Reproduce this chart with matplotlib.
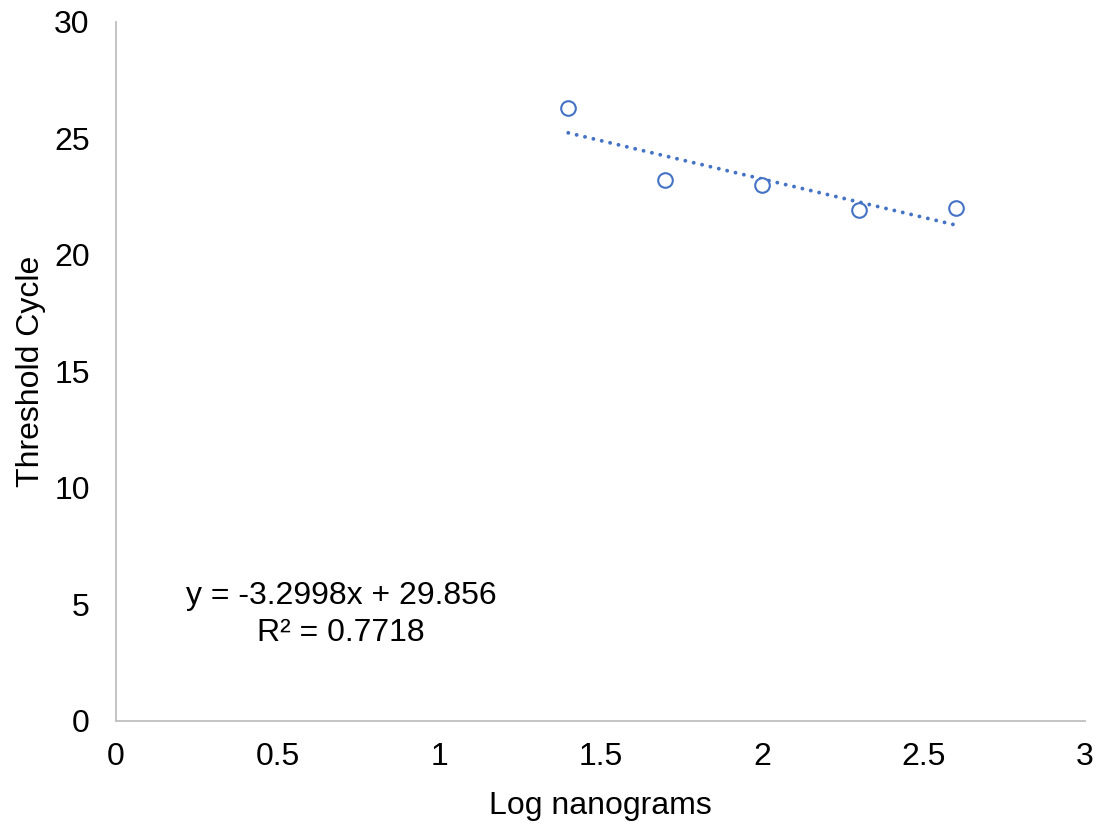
""" Curva padrão: Ct em função do log da massa (ng) """

import numpy as np
import matplotlib.pyplot as plt

plt.rcParams['font.family'] = ['Liberation Sans', 'DejaVu Sans']

# Dados da curva padrão
log_ng = [1.4, 1.7, 2.0, 2.3, 2.6]
ct = [26.31, 23.22, 22.99, 21.93, 22.00]

# Linha de tendência (coeficientes informados no gráfico)
inclinacao = -3.2998
intercepto = 29.856
r2 = 0.7718

x_ticks = [0, 0.5, 1, 1.5, 2, 2.5, 3]
y_ticks = [0, 5, 10, 15, 20, 25, 30]

azul = '#4472C4'
cinza = '#BFBFBF'
fs = 23

fig = plt.figure(figsize=(11.05, 8.24), dpi=100)
ax = fig.add_axes([0.105, 0.1254, 0.877, 0.848])

x_fit = np.array([min(log_ng), max(log_ng)])
y_fit = inclinacao * x_fit + intercepto
ax.plot(x_fit, y_fit, color=azul, lw=2.8, linestyle=(0, (0.01, 2.2)),
        dash_capstyle='round', zorder=2)

ax.plot(log_ng, ct, linestyle='none', marker='o', markersize=10.5,
        markerfacecolor='white', markeredgecolor=azul, markeredgewidth=1.5,
        zorder=3)

ax.text(0.697, 4.55, f'y = {inclinacao}x + {intercepto}\nR² = {r2}',
        ha='center', va='center', fontsize=fs, linespacing=1.3)

ax.set_xlim(0, 3)
ax.set_ylim(0, 30)
ax.set_xticks(x_ticks)
ax.set_xticklabels(['0', '0.5', '1', '1.5', '2', '2.5', '3'])
ax.set_yticks(y_ticks)

for lado in ['top', 'right']:
    ax.spines[lado].set_visible(False)
for lado in ['left', 'bottom']:
    ax.spines[lado].set_color(cinza)
    ax.spines[lado].set_linewidth(1.3)

ax.tick_params(axis='y', length=0, pad=19, labelsize=fs)
ax.tick_params(axis='x', length=0, pad=15, labelsize=fs)

ax.set_xlabel('Log nanograms', fontsize=fs, labelpad=14)
ax.set_ylabel('Threshold Cycle', fontsize=fs, labelpad=6)

fig.savefig('out.png', dpi=100)
